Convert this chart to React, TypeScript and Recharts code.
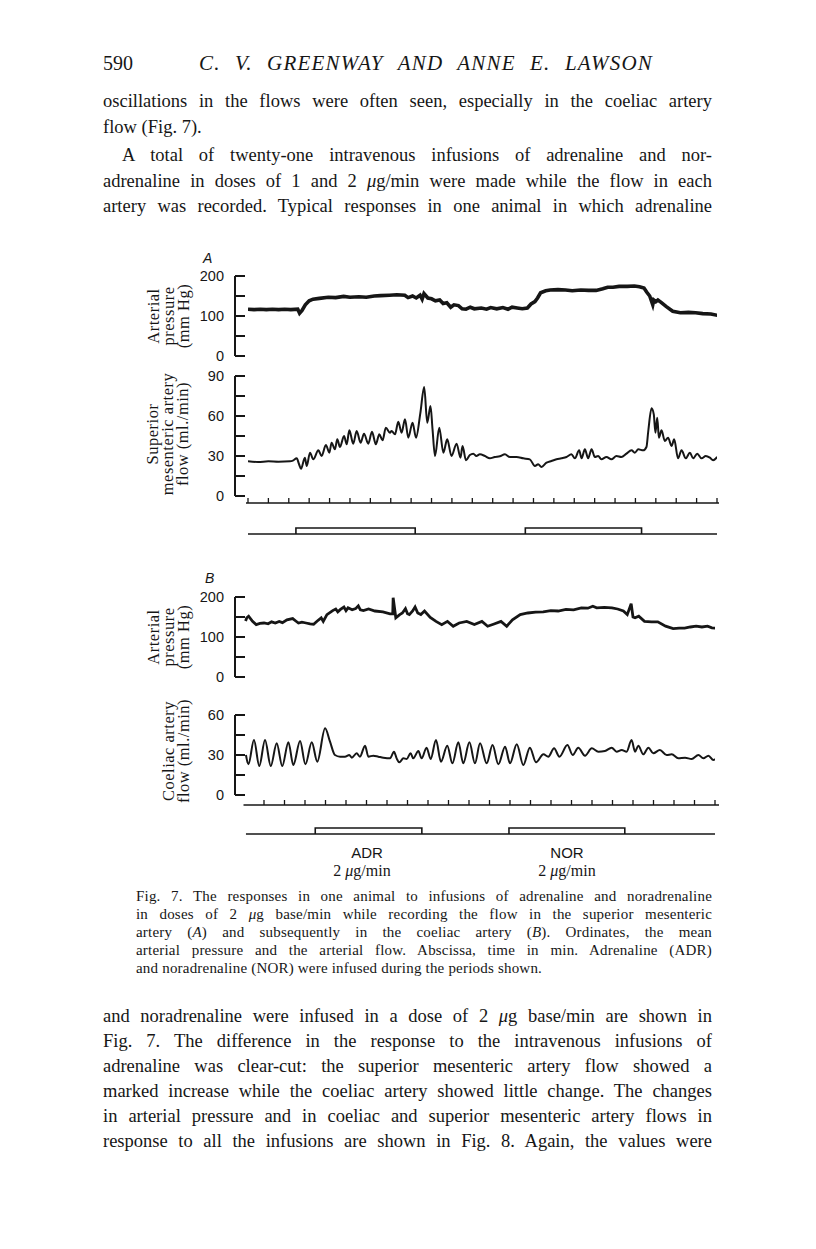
import React from 'react';
import { LineChart, Line, XAxis, YAxis } from 'recharts';

const INK = '#161616';
const SERIF = '"Liberation Serif", "DejaVu Serif", serif';
const SANS = '"Liberation Sans", "DejaVu Sans", sans-serif';

// [time (min), mean arterial pressure (mm Hg)] — record A
const pressureA = [
  [0, 117], [0.3, 116], [0.6, 117], [0.9, 116], [1.2, 117], [1.5, 116], [1.8, 117], [2.1, 116],
  [2.44, 117], [2.53, 107], [2.65, 114], [2.81, 128], [3.0, 138], [3.19, 142], [3.5, 144],
  [3.94, 147], [4.3, 146], [4.69, 149], [5.0, 147], [5.44, 148], [5.8, 147], [6.19, 150],
  [6.5, 151], [6.94, 152], [7.3, 153], [7.69, 152], [7.85, 146], [8.07, 150], [8.25, 145],
  [8.44, 152], [8.54, 142], [8.63, 156], [8.82, 145], [9.0, 143], [9.19, 138], [9.4, 140],
  [9.57, 131], [9.75, 133], [9.94, 122], [10.1, 128], [10.32, 126], [10.5, 118], [10.69, 117],
  [10.9, 122], [11.1, 118], [11.44, 120], [11.7, 117], [11.9, 121], [12.2, 118], [12.5, 121],
  [12.75, 117], [12.95, 122], [13.2, 120], [13.45, 118], [13.7, 120], [13.88, 130], [14.07, 136],
  [14.2, 145], [14.35, 158], [14.6, 163], [14.82, 165], [15.2, 166], [15.57, 165], [15.9, 163],
  [16.32, 165], [16.7, 164], [17.07, 164], [17.4, 168], [17.64, 172], [17.9, 172], [18.2, 174],
  [18.6, 174], [18.95, 175], [19.2, 173], [19.42, 170], [19.55, 160], [19.7, 150], [19.85, 128],
  [19.9, 140], [20.0, 136], [20.1, 140], [20.26, 134], [20.5, 124], [20.83, 112], [21.2, 108],
  [21.6, 109], [21.95, 108], [22.3, 106], [22.7, 105], [23.08, 101],
];

// [time (min), superior mesenteric artery flow (ml./min)]
const flowSMA = [
  [0, 26], [0.5, 25.5], [1.0, 26], [1.5, 25.75], [2.06, 26], [2.2, 26.5], [2.39, 28.25], [2.5, 24],
  [2.6, 20.5], [2.79, 28.75], [2.88, 22.5], [3.04, 32.5], [3.2, 27.5], [3.45, 34.25], [3.61, 30],
  [3.82, 38.25], [3.99, 32.5], [4.1, 40], [4.26, 35], [4.38, 42.5], [4.51, 36.75], [4.71, 45],
  [4.84, 38.75], [4.97, 49.25], [5.16, 39.25], [5.33, 48.75], [5.52, 40], [5.69, 46.75],
  [5.9, 39.25], [6.08, 48.25], [6.27, 38.75], [6.44, 46.25], [6.6, 41.75], [6.76, 51.25],
  [6.96, 47.5], [7.04, 48.75], [7.21, 46.25], [7.37, 55.75], [7.53, 47.5], [7.7, 57.5],
  [7.86, 43.75], [8.07, 55], [8.24, 43.75], [8.45, 62], [8.64, 81.75], [8.79, 55], [8.95, 67.5],
  [9.05, 50], [9.17, 30], [9.38, 51.25], [9.58, 32.5], [9.77, 42.5], [9.98, 30], [10.23, 39.25],
  [10.42, 28.75], [10.52, 37.5], [10.69, 26.75], [10.88, 30.75], [11.05, 31.75], [11.2, 30],
  [11.37, 31.25], [11.62, 30], [11.86, 28.25], [12.1, 29.25], [12.35, 29.75], [12.6, 31.25],
  [12.84, 29.25], [13.17, 29.25], [13.5, 28.25], [13.82, 27.5], [14.07, 22.5], [14.23, 23.75],
  [14.39, 21.75], [14.64, 25], [14.88, 26.25], [15.13, 27.5], [15.37, 28.25], [15.62, 29.25],
  [15.86, 31.25], [16.03, 28.25], [16.24, 34.25], [16.36, 28.25], [16.52, 35], [16.68, 28.25],
  [16.85, 35], [17.01, 29.25], [17.17, 30], [17.33, 27.5], [17.58, 29.25], [17.82, 27.5],
  [18.07, 30], [18.31, 29.25], [18.56, 31.75], [18.81, 34.25], [18.97, 32.5], [19.14, 35],
  [19.38, 34.25], [19.54, 36.75], [19.63, 48.75], [19.79, 65.75], [19.9, 61.25], [19.98, 47.5],
  [20.07, 58.75], [20.15, 43.75], [20.28, 49.25], [20.44, 41.25], [20.6, 43.75], [20.77, 37.5],
  [20.9, 42.5], [21.09, 28.25], [21.26, 34.25], [21.47, 28.25], [21.67, 32.5], [21.83, 28.25],
  [22.03, 31.75], [22.24, 28.25], [22.45, 30], [22.65, 28.75], [22.81, 26.75], [23.01, 29.25],
];

// [time (min), mean arterial pressure (mm Hg)] — record B
const pressureB = [
  [0.1, 140], [0.16, 148], [0.25, 152], [0.44, 139], [0.62, 131], [0.8, 134], [1.0, 135],
  [1.2, 133], [1.37, 138], [1.55, 135], [1.74, 139], [1.9, 136], [2.12, 143], [2.4, 146],
  [2.55, 140], [2.68, 135], [2.85, 137], [3.05, 135], [3.25, 133], [3.42, 132], [3.6, 140],
  [3.79, 148], [3.89, 139], [4.07, 156], [4.35, 166], [4.5, 170], [4.6, 163], [4.73, 169],
  [4.9, 175], [5.0, 166], [5.1, 173], [5.3, 168], [5.47, 171], [5.6, 178], [5.7, 168],
  [5.85, 166], [6.1, 170], [6.41, 165], [6.8, 163], [7.15, 158], [7.28, 158], [7.3, 198],
  [7.43, 148], [7.62, 156], [7.75, 160], [7.9, 171], [8.0, 158], [8.09, 156], [8.25, 165],
  [8.37, 175], [8.5, 160], [8.65, 156], [8.83, 165], [9.11, 149], [9.39, 139], [9.67, 131],
  [9.95, 139], [10.23, 127], [10.52, 135], [10.89, 139], [11.26, 131], [11.63, 139], [11.91, 127],
  [12.19, 132], [12.56, 139], [12.84, 127], [13.12, 143], [13.5, 156], [13.87, 160], [14.25, 162],
  [14.62, 163], [14.99, 166], [15.35, 165], [15.73, 169], [16.1, 168], [16.48, 173], [16.8, 172],
  [17.04, 177], [17.23, 173], [17.6, 174], [17.97, 173], [18.25, 170], [18.53, 165], [18.72, 156],
  [18.91, 183], [19.0, 150], [19.1, 148], [19.28, 152], [19.56, 139], [19.9, 138], [20.21, 138],
  [20.59, 127], [20.96, 121], [21.25, 122], [21.52, 122], [21.8, 125], [22.08, 127], [22.36, 125],
  [22.64, 127], [22.85, 123], [23.01, 122],
];

// [time (min), coeliac artery flow (ml./min)]
const flowCoeliac = [
  [0.12, 30], [0.24, 23], [0.51, 41.25], [0.77, 21.75], [1.05, 41.25], [1.33, 21.75],
  [1.62, 38.75], [1.89, 21.75], [2.19, 39.5], [2.43, 22.5], [2.76, 40.5], [3.02, 23], [3.33, 39.5],
  [3.6, 25], [3.98, 50], [4.22, 40], [4.46, 30], [4.71, 28.75], [4.95, 28.75], [5.16, 30],
  [5.28, 28], [5.52, 31.25], [5.68, 28.75], [5.93, 37], [6.09, 28.75], [6.33, 29.5], [6.58, 28.75],
  [6.82, 28], [7.15, 27.5], [7.34, 32.5], [7.47, 27.5], [7.6, 24.5], [7.8, 27.5], [7.96, 27],
  [8.15, 31.25], [8.28, 27.5], [8.53, 33], [8.69, 27.5], [8.93, 35.5], [9.13, 27], [9.39, 41.25],
  [9.63, 25], [9.94, 37], [10.19, 23.75], [10.48, 39.5], [10.72, 23.75], [11.02, 39.5],
  [11.29, 23.75], [11.54, 38.75], [11.86, 23.75], [12.15, 37.5], [12.43, 23], [12.76, 36.25],
  [13.0, 23.75], [13.33, 38], [13.65, 22.5], [13.97, 35.5], [14.27, 24.5], [14.63, 30.5],
  [14.87, 28.75], [15.15, 35], [15.41, 28.75], [15.8, 37.5], [16.06, 30], [16.33, 35.5],
  [16.66, 29.5], [16.99, 35], [17.31, 32.5], [17.63, 33], [17.96, 35.5], [18.2, 32.5],
  [18.45, 33.75], [18.69, 32.5], [18.93, 41.25], [19.1, 32.5], [19.26, 37], [19.5, 30.5],
  [19.75, 35.5], [19.99, 31.25], [20.31, 33.75], [20.64, 30], [20.89, 30.5], [21.21, 27.5],
  [21.54, 28], [21.86, 27], [22.19, 30], [22.43, 27.5], [22.68, 29.5], [22.92, 26.25], [23.16, 28.75],
];

const pressureTicks = [0, 50, 100, 150, 200];
const pressureLabels = [0, 100, 200];
const smaTicks = [0, 15, 30, 45, 60, 75, 90];
const smaLabels = [0, 30, 60, 90];
const coeliacTicks = [0, 15, 30, 45, 60];
const coeliacLabels = [0, 30, 60];
const minuteTicksA = Array.from({ length: 24 }, (_, i) => i);
const minuteTicksB = Array.from({ length: 23 }, (_, i) => i + 1);

// infusion periods (min) and the extent of the drawn time base
const infusionsA = [
  { drug: 'ADR', start: 2.35, end: 8.2 },
  { drug: 'NOR', start: 13.6, end: 19.3 },
];
const infusionsB = [
  { drug: 'ADR', start: 3.5, end: 8.7 },
  { drug: 'NOR', start: 12.95, end: 18.6 },
];
const timeBaseA = [-0.1, 23];
const timeBaseB = [0.12, 23.1];

const AXIS_X = 235;
const PLOT_RIGHT = 719;

const toRows = (pts: number[][]) => pts.map(([t, v]) => ({ t, v }));

const YTick = ({ x, y, payload, labels }: any) => (
  <g>
    <line x1={x + 11} x2={x + 21} y1={y} y2={y} stroke={INK} strokeWidth={2} />
    {labels.includes(payload.value) && (
      <text x={x} y={y} dy={5} textAnchor="end" fontFamily={SANS} fontSize={14.5} fill={INK}>
        {payload.value}
      </text>
    )}
  </g>
);

const MinuteTick = ({ x, y }: any) => (
  <line x1={x} x2={x} y1={y} y2={y - 5} stroke={INK} strokeWidth={1.3} />
);

interface TraceProps {
  data: number[][];
  top: number;
  height: number;
  domain: [number, number];
  ticks: number[];
  labels: number[];
  padLeft: number;
  padRight: number;
  strokeWidth: number;
  curve: 'linear' | 'monotone';
}

const Trace: React.FC<TraceProps> = ({ data, top, height, domain, ticks, labels, padLeft, padRight, strokeWidth, curve }) => (
  <div style={{ position: 'absolute', left: 0, top: top - 12 }}>
    <LineChart
      width={816}
      height={height + 24}
      data={toRows(data)}
      margin={{ top: 12, right: 816 - PLOT_RIGHT, bottom: 12, left: 0 }}
    >
      <XAxis dataKey="t" type="number" domain={[0, 23]} allowDataOverflow hide padding={{ left: padLeft, right: padRight }} />
      <YAxis
        type="number"
        domain={domain}
        ticks={ticks}
        interval={0}
        width={AXIS_X}
        axisLine={{ stroke: INK, strokeWidth: 2 }}
        tickLine={false}
        tickSize={0}
        tickMargin={11}
        tick={(p: any) => <YTick {...p} labels={labels} />}
      />
      <Line dataKey="v" type={curve} stroke={INK} strokeWidth={strokeWidth} dot={false} isAnimationActive={false} />
    </LineChart>
  </div>
);

interface StripProps {
  axisY: number;
  baseY: number;
  plotLeft: number;
  padLeft: number;
  padRight: number;
  ticks: number[];
  base: number[];
  periods: { drug: string; start: number; end: number }[];
}

// time axis (ticks pointing up) with the infusion periods drawn as open boxes on a base line
const InfusionStrip: React.FC<StripProps> = ({ axisY, baseY, plotLeft, padLeft, padRight, ticks, base, periods }) => {
  const h0 = baseY - axisY;
  const ext = 4;
  const boxH = 6 / h0;
  const baseRows = base.map((t) => ({ t, v: 0 }));
  return (
    <div style={{ position: 'absolute', left: 0, top: axisY - 8 }}>
      <LineChart width={816} height={8 + h0 + ext + 2} margin={{ top: 2, right: 816 - PLOT_RIGHT, bottom: 2, left: plotLeft }}>
        <XAxis
          dataKey="t"
          type="number"
          orientation="top"
          domain={[0, 23]}
          allowDataOverflow
          ticks={ticks}
          interval={0}
          height={6}
          tickSize={0}
          tickMargin={0}
          tickLine={false}
          tick={(p: any) => <MinuteTick {...p} />}
          axisLine={{ stroke: INK, strokeWidth: 1.6 }}
          padding={{ left: padLeft, right: padRight }}
        />
        <YAxis hide type="number" domain={[-ext / h0, 1]} allowDataOverflow />
        <Line data={baseRows} dataKey="v" type="linear" stroke={INK} strokeWidth={1.6} dot={false} isAnimationActive={false} />
        {periods.map((p) => (
          <Line
            key={p.drug}
            data={[
              { t: p.start, v: 0 },
              { t: p.start, v: boxH },
              { t: p.end, v: boxH },
              { t: p.end, v: 0 },
            ]}
            dataKey="v"
            type="linear"
            stroke={INK}
            strokeWidth={1.6}
            dot={false}
            isAnimationActive={false}
          />
        ))}
      </LineChart>
    </div>
  );
};

const TextLine: React.FC<{
  x: number; y: number; w?: number; size: number; font?: string; justify?: boolean;
  center?: boolean; italic?: boolean; spacing?: number; children: React.ReactNode;
}> = ({ x, y, w, size, font = SERIF, justify, center, italic, spacing, children }) => {
  const lh = Math.round(size * 1.25);
  return (
    <div
      style={{
        position: 'absolute',
        left: center ? x - (w ?? 200) / 2 : x,
        top: y - lh / 2,
        width: w ?? (center ? 200 : undefined),
        height: lh,
        lineHeight: `${lh}px`,
        fontFamily: font,
        fontSize: size,
        fontStyle: italic ? 'italic' : 'normal',
        letterSpacing: spacing,
        color: INK,
        textAlign: center ? 'center' : justify ? 'justify' : 'left',
        textAlignLast: justify ? 'justify' : undefined,
        whiteSpace: justify ? 'normal' : 'nowrap',
      }}
    >
      {children}
    </div>
  );
};

const AxisTitle: React.FC<{ cx: number; cy: number; lines: string[] }> = ({ cx, cy, lines }) => (
  <div
    style={{
      position: 'absolute',
      left: cx,
      top: cy,
      transform: 'translate(-50%, -50%) rotate(-90deg)',
      fontFamily: SERIF,
      fontSize: 16.5,
      letterSpacing: 0.5,
      lineHeight: '15px',
      color: INK,
      textAlign: 'center',
      whiteSpace: 'nowrap',
    }}
  >
    {lines.map((l) => (
      <div key={l}>{l}</div>
    ))}
  </div>
);

const mu = <i>μ</i>;

export default function App() {
  const body = 18.5;
  const cap = 15;
  const capSp = 0.2;
  return (
    <div style={{ position: 'absolute', left: 0, top: 0, width: 816, height: 1249, background: '#fff', overflow: 'hidden' }}>
      <TextLine x={103} y={63} size={20}>590</TextLine>
      <TextLine x={199} y={63} w={454} size={21} spacing={1.2} justify italic>C. V. GREENWAY AND ANNE E. LAWSON</TextLine>

      <TextLine x={103} y={101} w={609} size={body} justify>oscillations in the flows were often seen, especially in the coeliac artery</TextLine>
      <TextLine x={103} y={127} size={body}>flow (Fig. 7).</TextLine>
      <TextLine x={122} y={155} w={590} size={body} justify>A total of twenty-one intravenous infusions of adrenaline and nor-</TextLine>
      <TextLine x={103} y={181} w={609} size={body} justify>adrenaline in doses of 1 and 2 {mu}g/min were made while the flow in each</TextLine>
      <TextLine x={103} y={206} w={609} size={body} justify>artery was recorded. Typical responses in one animal in which adrenaline</TextLine>

      <div style={{ position: 'absolute', left: 203, top: 250, fontFamily: SANS, fontStyle: 'italic', fontSize: 14, color: INK }}>A</div>
      <AxisTitle cx={168} cy={316} lines={['Arterial', 'pressure', '(mm Hg)']} />
      <Trace data={pressureA} top={276} height={80} domain={[0, 200]} ticks={pressureTicks} labels={pressureLabels}
        padLeft={13} padRight={2} strokeWidth={3.6} curve="linear" />
      <AxisTitle cx={167} cy={434} lines={['Superior', 'mesenteric artery', 'flow (ml./min)']} />
      <Trace data={flowSMA} top={376} height={120} domain={[0, 90]} ticks={smaTicks} labels={smaLabels}
        padLeft={13} padRight={2} strokeWidth={2} curve="monotone" />
      <InfusionStrip axisY={503} baseY={534} plotLeft={246} padLeft={2} padRight={2} ticks={minuteTicksA}
        base={timeBaseA} periods={infusionsA} />

      <div style={{ position: 'absolute', left: 205, top: 570, fontFamily: SANS, fontStyle: 'italic', fontSize: 14, color: INK }}>B</div>
      <AxisTitle cx={168} cy={637} lines={['Arterial', 'pressure', '(mm Hg)']} />
      <Trace data={pressureB} top={597} height={80} domain={[0, 200]} ticks={pressureTicks} labels={pressureLabels}
        padLeft={8.5} padRight={4} strokeWidth={2.8} curve="linear" />
      <AxisTitle cx={176} cy={751} lines={['Coeliac artery', 'flow (ml./min)']} />
      <Trace data={flowCoeliac} top={715} height={80} domain={[0, 60]} ticks={coeliacTicks} labels={coeliacLabels}
        padLeft={8.5} padRight={4} strokeWidth={2} curve="monotone" />
      <InfusionStrip axisY={805} baseY={834} plotLeft={243.5} padLeft={0} padRight={4} ticks={minuteTicksB}
        base={timeBaseB} periods={infusionsB} />

      <TextLine x={367} y={852} w={80} size={15} font={SANS} center>ADR</TextLine>
      <TextLine x={567} y={852} w={80} size={15} font={SANS} center>NOR</TextLine>
      <TextLine x={362} y={871} w={120} size={16} center>2 {mu}g/min</TextLine>
      <TextLine x={567} y={871} w={120} size={16} center>2 {mu}g/min</TextLine>

      <TextLine x={136} y={896} w={576} size={cap} spacing={capSp} justify>Fig. 7. The responses in one animal to infusions of adrenaline and noradrenaline</TextLine>
      <TextLine x={136} y={914} w={576} size={cap} spacing={capSp} justify>in doses of 2 {mu}g base/min while recording the flow in the superior mesenteric</TextLine>
      <TextLine x={136} y={932} w={576} size={cap} spacing={capSp} justify>artery (<i>A</i>) and subsequently in the coeliac artery (<i>B</i>). Ordinates, the mean</TextLine>
      <TextLine x={136} y={950} w={576} size={cap} spacing={capSp} justify>arterial pressure and the arterial flow. Abscissa, time in min. Adrenaline (ADR)</TextLine>
      <TextLine x={136} y={968} size={cap} spacing={capSp}>and noradrenaline (NOR) were infused during the periods shown.</TextLine>

      <TextLine x={103} y={1016} w={609} size={body} justify>and noradrenaline were infused in a dose of 2 {mu}g base/min are shown in</TextLine>
      <TextLine x={103} y={1041} w={609} size={body} justify>Fig. 7. The difference in the response to the intravenous infusions of</TextLine>
      <TextLine x={103} y={1066} w={609} size={body} justify>adrenaline was clear-cut: the superior mesenteric artery flow showed a</TextLine>
      <TextLine x={103} y={1091} w={609} size={body} justify>marked increase while the coeliac artery showed little change. The changes</TextLine>
      <TextLine x={103} y={1116} w={609} size={body} justify>in arterial pressure and in coeliac and superior mesenteric artery flows in</TextLine>
      <TextLine x={103} y={1141} w={609} size={body} justify>response to all the infusions are shown in Fig. 8. Again, the values were</TextLine>
    </div>
  );
}
